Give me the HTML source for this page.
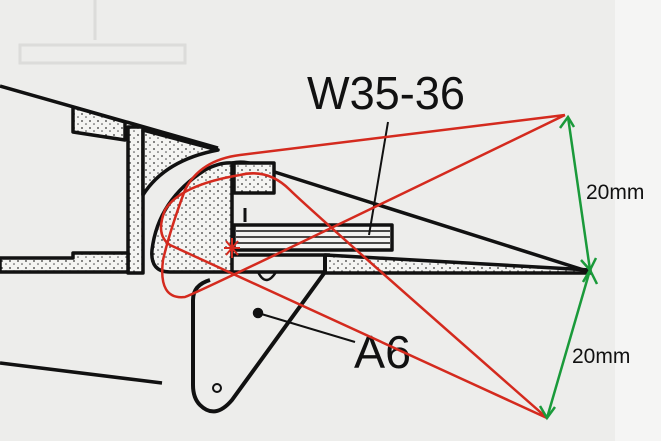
<!DOCTYPE html>
<html><head><style>
html,body{margin:0;padding:0;background:#ededeb;}
svg{display:block}
</style></head><body>
<svg width="661" height="441" viewBox="0 0 661 441" xmlns="http://www.w3.org/2000/svg">
<defs>
<pattern id="dots" width="8" height="7" patternUnits="userSpaceOnUse">
<rect width="8" height="7" fill="#f4f4f2"/>
<circle cx="2" cy="2" r="0.9" fill="#333"/>
<circle cx="6" cy="5" r="0.8" fill="#444"/>
</pattern>
</defs>
<rect width="661" height="441" fill="#ededeb"/>
<rect x="615" y="0" width="46" height="441" fill="#f5f5f4"/>
<g stroke="#dcdcda" stroke-width="3" fill="none">
<rect x="20" y="45" width="165" height="18"/>
<line x1="95" y1="0" x2="95" y2="40"/>
</g>
<g stroke="#111" stroke-width="3.5" fill="none" stroke-linejoin="round">
<line x1="0" y1="86" x2="218" y2="148"/>
<path d="M73,107 L73,132 L125,140 L125,122 Z" fill="url(#dots)"/>
<rect x="128" y="127" width="15" height="146" fill="url(#dots)"/>
<path d="M143,130 L218,150 Q165,160 143,195 Z" fill="url(#dots)"/>
<path d="M0,258 L73,258 L73,253 L128,253 L128,272 L0,272 Z" fill="url(#dots)"/>
<line x1="0" y1="363" x2="162" y2="383"/>
</g>
<g stroke="#111" stroke-width="3.5" fill="none" stroke-linejoin="round">
<path d="M232,163 L232,272 L170,272 Q150,272 152,250 Q158,200 205,170 Q220,162 232,163 Z" fill="url(#dots)"/>
<path d="M232,163 Q248,160 262,168 L590,272 L232,272" />
<path d="M325,255 L590,270 L590,273 L325,273 Z" fill="url(#dots)"/>
<rect x="234" y="163" width="40" height="30" fill="url(#dots)"/>
<rect x="234" y="225" width="158" height="25" fill="#f2f2f0"/>
<g stroke-width="1.5"><line x1="236" y1="231" x2="390" y2="231"/><line x1="236" y1="237" x2="390" y2="237"/><line x1="236" y1="243" x2="390" y2="243"/></g>
<line x1="232" y1="255" x2="330" y2="255"/>
<path d="M258,272 Q266,288 276,272" stroke-width="2.5"/>
<path d="M325,255 L325,272 L232,400 Q215,420 200,405 Q193,398 193,385 L193,300 Q193,285 210,280" stroke-width="4"/>
<circle cx="217" cy="388" r="4" stroke-width="2"/>
<circle cx="258" cy="313" r="3.5" fill="#111"/>
<line x1="258" y1="313" x2="355" y2="342" stroke-width="2"/>
<line x1="388" y1="122" x2="369" y2="235" stroke-width="2"/>
<path d="M245,222 L245,208" stroke-width="3"/>
</g>
<text x="307" y="109" font-family="Liberation Sans Narrow, Liberation Sans, sans-serif" font-size="46" fill="#111" textLength="158" lengthAdjust="spacingAndGlyphs">W35-36</text>
<text x="354" y="368" font-family="Liberation Sans Narrow, Liberation Sans, sans-serif" font-size="46" fill="#111" textLength="57" lengthAdjust="spacingAndGlyphs">A6</text>
<g stroke="#d42a1e" stroke-width="2.5" fill="none" stroke-linejoin="round">
<path d="M565,115 L240,155 Q200,160 185,190 Q170,230 163,260 Q158,300 185,297 Q200,292 565,115"/>
<path d="M547,418 L170,245 Q155,235 165,210 Q180,185 240,175 Q268,168 290,190 Q310,210 547,418"/>
<g stroke-width="2"><line x1="224" y1="248" x2="240" y2="248"/><line x1="232" y1="238" x2="232" y2="258"/><line x1="226" y1="241" x2="238" y2="255"/><line x1="238" y1="241" x2="226" y2="255"/></g>
</g>
<g stroke="#1a9a3a" stroke-width="2.5" fill="none">
<line x1="568" y1="117" x2="590" y2="270"/>
<line x1="590" y1="270" x2="547" y2="418"/>
<path d="M560,128 L568,117 L574,127"/>
<path d="M581,260 L590,270 L596,258"/>
<path d="M583,282 L590,270 L597,284"/>
<path d="M540,406 L547,418 L555,407"/>
</g>
<text x="586" y="199" font-family="Liberation Sans, sans-serif" font-size="21" fill="#111">20mm</text>
<text x="572" y="363" font-family="Liberation Sans, sans-serif" font-size="21" fill="#111">20mm</text>
</svg>
</body></html>
